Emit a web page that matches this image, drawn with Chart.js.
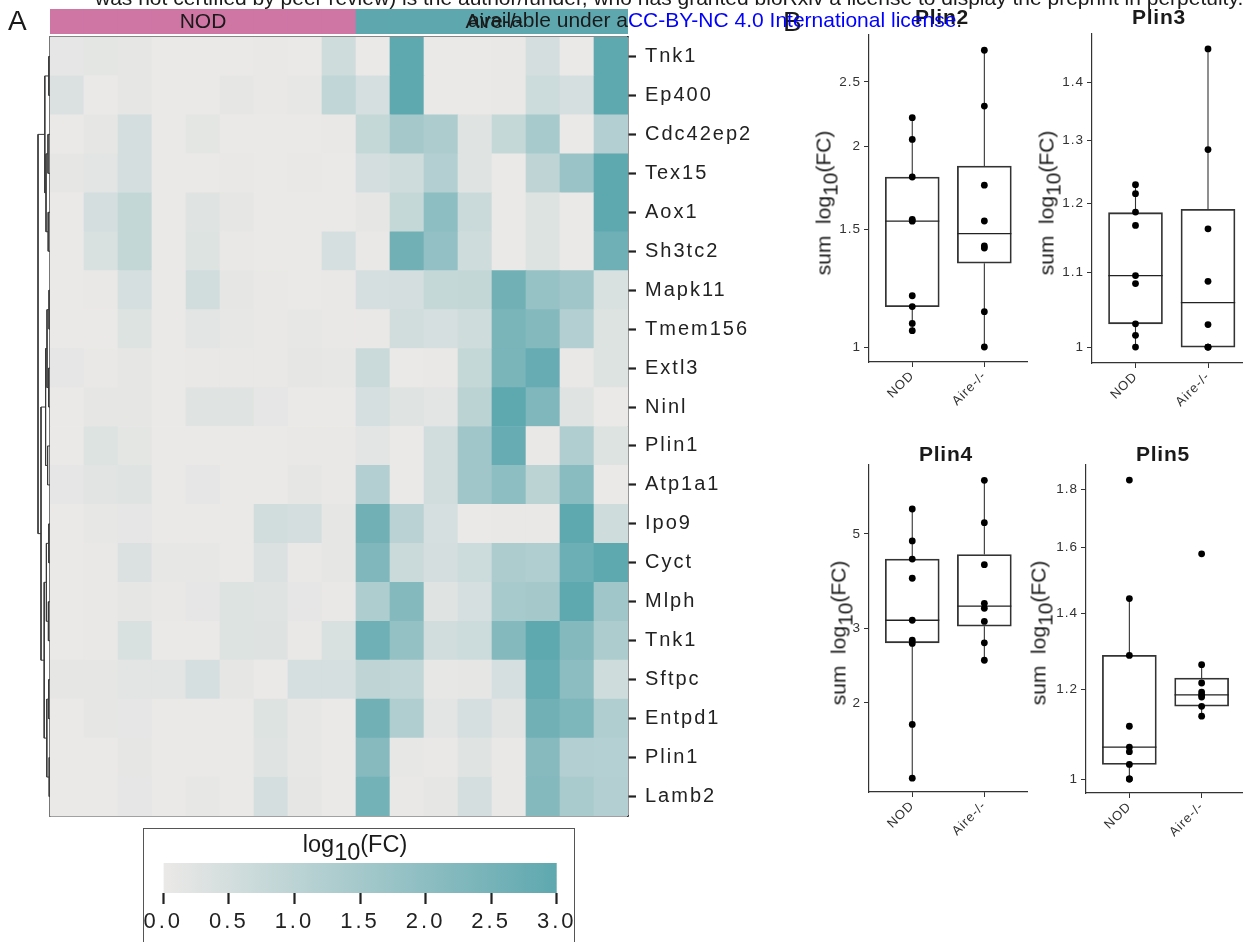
<!DOCTYPE html>
<html><head><meta charset="utf-8">
<script src="https://cdn.jsdelivr.net/npm/chart.js@4.4.1/dist/chart.umd.min.js"></script>
<style>
html,body{margin:0;padding:0;background:#fff;overflow:hidden;width:1243px;height:942px;}
body{position:relative;font-family:"Liberation Sans",Arial,Helvetica,sans-serif;color:#1a1a1a;}
canvas{position:absolute;}
.t{position:absolute;white-space:nowrap;line-height:1;z-index:5;}
.t sub{font-size:1em;vertical-align:-0.32em;line-height:0;}
#legbox{position:absolute;left:143px;top:828px;width:432px;height:140px;border:1px solid #555;box-sizing:border-box;}
</style></head><body>
<div id="legbox"></div>
<script>
// ================= DATA =================
const genes = ["Tnk1","Ep400","Cdc42ep2","Tex15","Aox1","Sh3tc2","Mapk11","Tmem156","Extl3","Ninl",
               "Plin1","Atp1a1","Ipo9","Cyct","Mlph","Tnk1","Sftpc","Entpd1","Plin1","Lamb2"];
const sampleIds = ["N1","N2","N3","N4","N5","N6","N7","N8","N9","A1","A2","A3","A4","A5","A6","A7","A8"];
const sampleGroups = ["NOD","NOD","NOD","NOD","NOD","NOD","NOD","NOD","NOD",
                      "Aire-/-","Aire-/-","Aire-/-","Aire-/-","Aire-/-","Aire-/-","Aire-/-","Aire-/-"];
// log10(FC) per gene (rows, top to bottom) per sample (9 NOD then 8 Aire-/-)
const heatRows = [
 [0.12,0.15,0.10,0,0,0,0.05,0,0.60,   0,3.0,0,0,0.05,0.50,0,3.0],
 [0.35,0,0.10,0,0,0.10,0.05,0.08,0.90, 0.45,3.0,0,0,0.05,0.65,0.45,3.0],
 [0,0.10,0.50,0,0.15,0,0,0,0.03,      0.80,1.50,1.35,0.25,0.80,1.45,0,1.20],
 [0.10,0.20,0.50,0,0,0.05,0,0.05,0,   0.50,0.60,1.20,0.25,0,0.95,1.75,3.0],
 [0,0.50,0.85,0,0.25,0.10,0,0,0,      0.10,0.80,2.0,0.70,0,0.30,0,3.0],
 [0,0.40,0.85,0,0.30,0.05,0,0,0.45,   0.05,2.60,1.90,0.60,0,0.30,0,2.65],
 [0,0.05,0.45,0,0.55,0.10,0.05,0,0.03, 0.45,0.50,0.80,0.85,2.60,1.80,1.60,0.40],
 [0,0,0.30,0,0.20,0.08,0.05,0.08,0.03, 0.03,0.55,0.45,0.60,2.40,2.20,1.20,0.30],
 [0.12,0.05,0.10,0,0.05,0.05,0.05,0.10,0.08, 0.70,0,0.03,0.80,2.40,2.80,0.05,0.30],
 [0,0.10,0.10,0,0.25,0.25,0.12,0,0,   0.45,0.25,0.20,1.0,3.0,2.30,0.25,0],
 [0,0.30,0.15,0,0,0,0,0.03,0.03,      0.20,0,0.55,1.60,2.80,0.03,1.25,0.30],
 [0.12,0.22,0.25,0,0.12,0,0,0.10,0.03, 1.20,0,0.55,1.60,2.0,1.0,2.10,0],
 [0,0.08,0.12,0,0,0,0.55,0.50,0.10,   2.60,1.05,0.45,0,0.05,0.03,3.0,0.60],
 [0,0.05,0.35,0.08,0.08,0,0.35,0.03,0.10, 2.30,0.70,0.50,0.65,1.35,1.25,2.70,3.0],
 [0,0.03,0.10,0.03,0.12,0.30,0.25,0.12,0.05, 1.30,2.20,0.25,0.45,1.45,1.50,3.0,1.60],
 [0,0.03,0.40,0,0,0.30,0.28,0.05,0.40, 2.65,1.85,0.55,0.65,2.20,3.0,2.20,1.35],
 [0.10,0.10,0.20,0.20,0.45,0.10,0,0.45,0.45, 0.95,0.90,0.08,0.10,0.45,2.85,2.05,0.60],
 [0,0.10,0.12,0,0,0,0.30,0.08,0,      2.60,1.25,0.20,0.45,0.22,2.60,2.35,1.25],
 [0,0,0.10,0,0,0,0.25,0.08,0,         2.15,0.08,0.03,0.25,0.05,2.15,1.20,1.15],
 [0,0,0.12,0,0.08,0,0.50,0.10,0,      2.55,0.05,0.10,0.50,0.05,2.20,1.40,1.20]
];
// row dendrogram (hclust style merges: negative = leaf row number, positive = earlier merge)
const dendroMerges = [
 [-1,-2,0.6],[-3,-4,1.0],[-5,-6,0.9],[2,3,2.0],[1,4,2.6],
 [-7,-8,0.5],[-9,-10,0.7],[6,7,1.5],[-11,-12,1.2],[8,9,2.2],
 [-13,-14,0.6],[-15,-16,0.8],[11,12,1.8],[-17,-18,0.7],[-19,-20,0.4],[14,15,1.6],[13,16,2.9],
 [10,17,4.5],[5,18,6.0]
];
const legendTicks = [0,0.5,1,1.5,2,2.5,3];
const groupLabels = ["NOD","Aire-/-"];

// box plots: points per group and [lower whisker, q1, median, q3, upper whisker]
const plin2Nod  = [2.21,2.05,1.80,1.555,1.545,1.194,1.15,1.085,1.058];
const plin2Aire = [2.79,2.30,1.75,1.546,1.418,1.408,1.13,1.0];
const plin2NodBox  = [1.058,1.15,1.545,1.80,2.21];
const plin2AireBox = [1.0,1.336,1.48,1.87,2.79];
const plin2Ticks = [1,1.5,2,2.5];

const plin3Nod  = [1.229,1.215,1.187,1.167,1.095,1.084,1.03,1.015,1.0];
const plin3Aire = [1.46,1.285,1.162,1.087,1.029,1.0,1.0,1.0];
const plin3NodBox  = [1.0,1.03,1.095,1.186,1.229];
const plin3AireBox = [1.0,1.0,1.058,1.191,1.46];
const plin3Ticks = [1,1.1,1.2,1.3,1.4];

const plin4Nod  = [5.72,4.81,4.36,3.93,3.13,2.81,2.76,1.78,1.33];
const plin4Aire = [6.68,5.31,4.23,3.43,3.34,3.11,2.77,2.52];
const plin4NodBox  = [1.33,2.77,3.13,4.36,5.72];
const plin4AireBox = [2.52,3.03,3.38,4.47,6.68];
const plin4Ticks = [2,3,5];

const plin5Nod  = [1.834,1.442,1.285,1.113,1.067,1.057,1.03,1.0,1.0];
const plin5Aire = [1.579,1.261,1.215,1.193,1.186,1.181,1.159,1.136];
const plin5NodBox  = [1.0,1.03,1.067,1.285,1.442];
const plin5AireBox = [1.136,1.159,1.186,1.227,1.261];
const plin5Ticks = [1,1.2,1.4,1.6,1.8];

// ================= STYLE / HELPERS =================
const FONT = '"Liberation Sans", Arial, Helvetica, sans-serif';
Chart.defaults.font.family = FONT;
Chart.defaults.color = '#222';
const LOW = [235,233,231], HIGH = [94,168,175];
const groupColors = {"NOD":"#cf76a5","Aire-/-":"#5ea7af"};
function heatColor(v){
  const t = Math.max(0, Math.min(1, v/3));
  const c = LOW.map((l,i)=>Math.round(l + (HIGH[i]-l)*t));
  return `rgb(${c[0]},${c[1]},${c[2]})`;
}
const spacing = { id:'spacing', beforeDraw(chart, args, opts){ chart.ctx.letterSpacing = (opts && opts.value) || '0px'; } };
function mkCanvas(left, top, w, h){
  const c = document.createElement('canvas');
  c.width = Math.round(w); c.height = Math.round(h);
  c.style.left = left+'px'; c.style.top = top+'px';
  c.style.width = Math.round(w)+'px'; c.style.height = Math.round(h)+'px';
  document.body.appendChild(c);
  return c;
}
function addText(html, o){
  const d = document.createElement('div');
  d.className = 't';
  d.innerHTML = html;
  d.style.fontSize = o.size+'px';
  if (o.bold) d.style.fontWeight = 'bold';
  if (o.ls) d.style.letterSpacing = o.ls+'px';
  if (o.color) d.style.color = o.color;
  const top = o.baseline - 0.8465*o.size;
  d.style.top = top+'px';
  if (o.rotate){
    d.style.left = o.cx+'px';
    d.style.top = o.cy+'px';
    d.style.transform = 'translate(-50%,-50%) rotate(-90deg)';
  } else if (o.cx !== undefined){
    d.style.left = o.cx+'px';
    d.style.transform = 'translateX(-50%)';
  } else {
    d.style.left = o.left+'px';
  }
  document.body.appendChild(d);
  return d;
}
const baseOpts = {responsive:false, animation:false, devicePixelRatio:1, events:[]};

// ================= HEATMAP =================
(function(){
  const cv = mkCanvas(0,0,780,840);
  const n = genes.length;
  const datasets = [];
  for (let r = n-1; r >= 0; r--){
    datasets.push({type:'bar', label:genes[r], data: heatRows[r].map(()=>1),
      backgroundColor: heatRows[r].map(heatColor), borderWidth:0, grouped:false,
      barPercentage:1, categoryPercentage:1, xAxisID:'x', yAxisID:'y', order:2});
  }
  // dendrogram segments in (height, row) space
  const nodes = [];
  const pos = id => id < 0 ? {x:0, y:n - (-id) + 0.5} : nodes[id-1];
  const dend = [];
  dendroMerges.forEach(([a,b,h])=>{
    const A = pos(a), B = pos(b), X = -h;
    dend.push({x:A.x,y:A.y},{x:X,y:A.y},{x:X,y:B.y},{x:B.x,y:B.y},{x:null,y:null});
    nodes.push({x:X, y:(A.y+B.y)/2});
  });
  datasets.push({type:'line', data:dend, xAxisID:'xd', yAxisID:'yg', borderColor:'#3a3a3a',
    borderWidth:1, pointRadius:0, spanGaps:false, clip:false, order:1, tension:0});
  new Chart(cv, {type:'bar', data:{labels:sampleIds, datasets},
    options:{...baseOpts,
      layout:{padding:{left:50, top:37, right:12, bottom:24}},
      plugins:{legend:{display:false}, tooltip:{enabled:false}, spacing:{value:'2px'}},
      scales:{
        x:{type:'category', stacked:true, grid:{display:false}, ticks:{display:false},
           border:{display:true, color:'#444', width:1.5}, afterFit(s){s.height=0;}},
        xt:{type:'category', position:'top', labels:sampleIds, grid:{display:false}, ticks:{display:false},
           border:{display:true, color:'#888', width:1.5}, afterFit(s){s.height=0;}},
        y:{type:'linear', stacked:true, min:0, max:n, position:'left', grid:{display:false},
           ticks:{display:false}, border:{display:true, color:'#777', width:1.5}, afterFit(s){s.width=0;}},
        yg:{type:'linear', position:'right', min:0, max:n,
           afterBuildTicks(s){ s.ticks = genes.map((g,i)=>({value:n-i-0.5})); },
           ticks:{autoSkip:false, padding:9, font:{size:20}, color:'#222',
                  callback:(v)=>genes[Math.round(n-0.5-v)]},
           grid:{drawOnChartArea:false, drawTicks:true, tickLength:8, tickWidth:2.2, tickColor:'#222'},
           border:{display:true, color:'#333', width:1.5}, afterFit(s){s.width=140;}},
        xd:{type:'linear', display:false, min:0, max:289, offset:false, grid:{offset:false}}
      }},
    plugins:[spacing]});
})();

// ================= ANNOTATION BAR =================
(function(){
  const cv = mkCanvas(50,9,578,25);
  new Chart(cv, {type:'bar', data:{labels:sampleIds, datasets:[{data:sampleGroups.map(()=>1),
      backgroundColor:sampleGroups.map(g=>groupColors[g]), borderWidth:0, barPercentage:1, categoryPercentage:1}]},
    options:{...baseOpts, layout:{padding:0}, plugins:{legend:{display:false}, tooltip:{enabled:false}},
      scales:{x:{display:false}, y:{display:false, min:0, max:1}}}});
})();

// ================= COLOUR LEGEND =================
(function(){
  const cv = mkCanvas(143,826,434,116);
  new Chart(cv, {type:'bar', data:{labels:['log10(FC)'], datasets:[{data:[[legendTicks[0], legendTicks[legendTicks.length-1]]],
      backgroundColor:(ctx)=>{
        const ch = ctx.chart, xs = ch.scales.x;
        if (!ch.chartArea || !xs) return heatColor(1.5);
        const lo = legendTicks[0], hi = legendTicks[legendTicks.length-1];
        const g = ch.ctx.createLinearGradient(xs.getPixelForValue(lo),0,xs.getPixelForValue(hi),0);
        g.addColorStop(0, heatColor(lo)); g.addColorStop(1, heatColor(hi));
        return g;
      }, borderWidth:0, barPercentage:1, categoryPercentage:1}]},
    options:{...baseOpts, indexAxis:'y',
      layout:{padding:{left:20, right:20, top:37, bottom:0}},
      plugins:{legend:{display:false}, tooltip:{enabled:false}, spacing:{value:'3px'}},
      scales:{
        y:{display:false},
        x:{type:'linear', min:0, max:3, afterBuildTicks(s){ s.ticks = legendTicks.map(v=>({value:v})); },
           ticks:{callback:(v)=>Number(v).toFixed(1), font:{size:22}, color:'#222', padding:5, autoSkip:false, maxRotation:0},
           grid:{drawOnChartArea:false, drawTicks:true, tickLength:11, tickWidth:2.2, tickColor:'#222'},
           border:{display:false}, afterFit(s){s.height=49;}}
      }},
    plugins:[spacing]});
})();

// ================= BOX PLOTS =================
function boxPanel(area, yr, ticks, nodPts, airePts, nodBox, aireBox){
  const padL = 10, axW = 60, padT = 12, axH = 72, padR = 10;
  const cw = Math.ceil(area.W + padL + axW + padR), ch = Math.round(area.H + padT + axH);
  const cv = mkCanvas(area.L - padL - axW, area.T - padT, cw, ch);
  const boxes = [nodBox, aireBox];
  const half = 0.375;
  const boxData = boxes.map((b,i)=>({x:i+1, y:[b[1], b[3]]}));
  const med = [], wh = [];
  boxes.forEach((b,i)=>{
    const x = i+1;
    med.push({x:x-half,y:b[2]},{x:x+half,y:b[2]},{x:null,y:null});
    wh.push({x,y:b[0]},{x,y:b[1]},{x:null,y:null},{x,y:b[3]},{x,y:b[4]},{x:null,y:null});
  });
  const pts = [...nodPts.map(v=>({x:1,y:v})), ...airePts.map(v=>({x:2,y:v}))];
  const pxPerUnit = area.W / 2.2;
  new Chart(cv, {type:'bar', data:{datasets:[
      {type:'line', data:pts, showLine:false, pointRadius:3.4, pointBackgroundColor:'#000', pointBorderWidth:0, order:0},
      {type:'line', data:med, borderColor:'#222', borderWidth:1.3, pointRadius:0, spanGaps:false, order:1},
      {type:'line', data:wh, borderColor:'#333', borderWidth:1.1, pointRadius:0, spanGaps:false, order:2},
      {type:'bar', data:boxData, backgroundColor:'rgba(255,255,255,0)', borderColor:'#333', borderWidth:1.1,
       borderSkipped:false, barThickness:Math.round(pxPerUnit*2*half), order:3}
    ]},
    options:{...baseOpts,
      layout:{padding:{left:padL, top:padT, right:cw - padL - axW - area.W, bottom:0}},
      plugins:{legend:{display:false}, tooltip:{enabled:false}, spacing:{value:'1px'}},
      scales:{
        x:{type:'linear', min:0.4, max:2.6, offset:false,
           afterBuildTicks(s){ s.ticks = [{value:1},{value:2}]; },
           ticks:{callback:(v)=>groupLabels[Math.round(v)-1], minRotation:45, maxRotation:45, autoSkip:false,
                  font:{size:13}, color:'#333', padding:1},
           grid:{offset:false, drawOnChartArea:false, drawTicks:true, tickLength:5, tickColor:'#333', tickWidth:1},
           border:{display:true, color:'#333', width:1.2}, afterFit(s){s.height=axH;}},
        y:{type:'logarithmic', min:yr[0], max:yr[1],
           afterBuildTicks(s){ s.ticks = ticks.map(v=>({value:v})); },
           ticks:{callback:(v)=>String(v), font:{size:13.5}, color:'#333', padding:3, autoSkip:false},
           grid:{drawOnChartArea:false, drawTicks:true, tickLength:5, tickColor:'#333', tickWidth:1},
           border:{display:true, color:'#333', width:1.2}, afterFit(s){s.width=axW;}}
      }},
    plugins:[spacing]});
}
boxPanel({L:868.7, T:35,  W:158.6, H:327},   [0.9495,2.941], plin2Ticks, plin2Nod, plin2Aire, plin2NodBox, plin2AireBox);
boxPanel({L:1091.5,T:34,  W:159.5, H:328.7}, [0.9816,1.488], plin3Ticks, plin3Nod, plin3Aire, plin3NodBox, plin3AireBox);
boxPanel({L:869.3, T:465, W:158.6, H:326.7}, [1.234,7.26],   plin4Ticks, plin4Nod, plin4Aire, plin4NodBox, plin4AireBox);
boxPanel({L:1085.5,T:465, W:159,   H:328},   [0.972,1.891],  plin5Ticks, plin5Nod, plin5Aire, plin5NodBox, plin5AireBox);

// ================= TEXT =================
addText('NOD', {cx:203, baseline:28, size:21});
addText('Aire-/-', {cx:494, baseline:28, size:21});
addText('A', {left:8, baseline:31, size:28});
addText('B', {left:783, baseline:32, size:28});
addText('Plin2', {cx:942, baseline:24, size:21, bold:true, ls:0.8});
addText('Plin3', {cx:1159, baseline:23.5, size:21, bold:true, ls:0.8});
addText('Plin4', {cx:946, baseline:461, size:21, bold:true, ls:0.8});
addText('Plin5', {cx:1163, baseline:461, size:21, bold:true, ls:0.8});
const ylab = 'sum&nbsp; log<sub>10</sub>(FC)';
addText(ylab, {rotate:true, cx:822.7, cy:203, size:21, baseline:0});
addText(ylab, {rotate:true, cx:1046, cy:202.5, size:21, baseline:0});
addText(ylab, {rotate:true, cx:838.4, cy:633, size:21, baseline:0});
addText(ylab, {rotate:true, cx:1038.4, cy:632.5, size:21, baseline:0});
addText('log<sub>10</sub>(FC)', {cx:355, baseline:852.5, size:23.5});
addText('was not certified by peer review) is the author/funder, who has granted bioRxiv a license to display the preprint in perpetuity. It is made', {left:95, baseline:5, size:21});
addText('available under a<span style="color:#0000ff">CC-BY-NC 4.0 International license</span>.', {left:468, baseline:26.7, size:21});
</script>
</body></html>
